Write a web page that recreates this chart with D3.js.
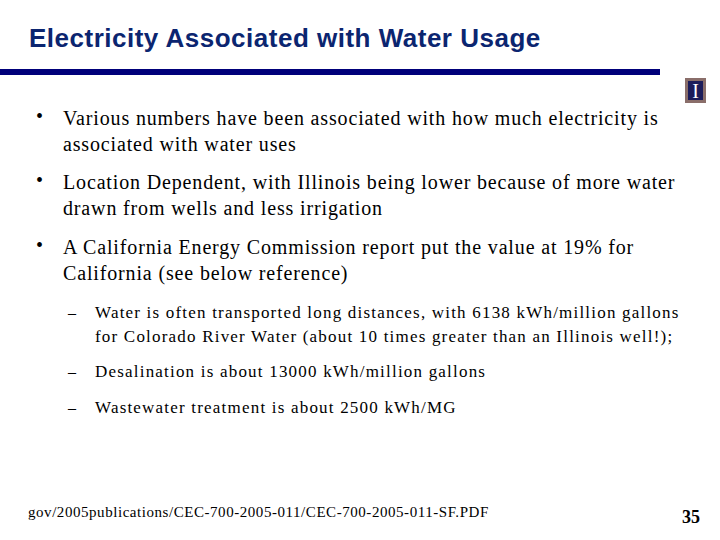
<!DOCTYPE html>
<html><head><meta charset="utf-8">
<script src="https://cdn.jsdelivr.net/npm/d3@7"></script>
<style>body{margin:0;background:#fff}</style>
</head><body>
<script>
// slide content
var title = "Electricity Associated with Water Usage";
var bullets = [
  ["Various numbers have been associated with how much electricity is", "associated with water uses"],
  ["Location Dependent, with Illinois being lower because of more water", "drawn from wells and less irrigation"],
  ["A California Energy Commission report put the value at 19% for", "California (see below reference)"]
];
var subBullets = [
  ["Water is often transported long distances, with 6138 kWh/million gallons", "for Colorado River Water (about 10 times greater than an Illinois well!);"],
  ["Desalination is about 13000 kWh/million gallons"],
  ["Wastewater treatment is about 2500 kWh/MG"]
];
var bulletTops = [118, 182, 247];
var subTops = [312, 371, 407];
var footer = "gov/2005publications/CEC-700-2005-011/CEC-700-2005-011-SF.PDF";
var pageNum = "35";

var svg = d3.select("body").append("svg").attr("width", 720).attr("height", 540);

svg.append("text").attr("x", 29).attr("y", 47)
  .attr("font-family", "Liberation Sans, Arial").attr("font-weight", "bold")
  .attr("font-size", 26).attr("letter-spacing", 0.5).attr("fill", "#0b2570").text(title);

svg.append("rect").attr("x", 0).attr("y", 69).attr("width", 660).attr("height", 6).attr("fill", "#00007a");

// logo
svg.append("rect").attr("x", 685).attr("y", 78).attr("width", 21).attr("height", 25).attr("fill", "#8a6e6a");
svg.append("rect").attr("x", 688).attr("y", 81).attr("width", 15).attr("height", 19).attr("fill", "#1c1c5a");
svg.append("text").attr("x", 695.5).attr("y", 98).attr("text-anchor", "middle")
  .attr("font-family", "Liberation Serif").attr("font-size", 20).attr("fill", "#fff").text("I");

var serif = "Liberation Serif, Times New Roman";

bullets.forEach(function(b, i){
  var g = svg.append("g");
  g.append("text").attr("x", 36).attr("y", bulletTops[i] + 5).attr("font-family", serif)
    .attr("font-size", 20).text("\u2022");
  b.forEach(function(line, j){
    g.append("text").attr("x", 63).attr("y", bulletTops[i] + 7 + j * 26)
      .attr("font-family", serif).attr("font-size", 20).attr("letter-spacing", 0.85).text(line);
  });
});

subBullets.forEach(function(b, i){
  var g = svg.append("g");
  g.append("text").attr("x", 68).attr("y", subTops[i] + 6).attr("font-family", serif)
    .attr("font-size", 16).text("\u2013");
  b.forEach(function(line, j){
    g.append("text").attr("x", 95).attr("y", subTops[i] + 6 + j * 24)
      .attr("font-family", serif).attr("font-size", 17).attr("letter-spacing", 1.2).text(line);
  });
});

svg.append("text").attr("x", 28).attr("y", 517).attr("font-family", serif)
  .attr("font-size", 15).attr("letter-spacing", 0.55).text(footer);
svg.append("text").attr("x", 700).attr("y", 523).attr("text-anchor", "end").attr("font-family", serif)
  .attr("font-weight", "bold").attr("font-size", 18).text(pageNum);
</script>
</body></html>
